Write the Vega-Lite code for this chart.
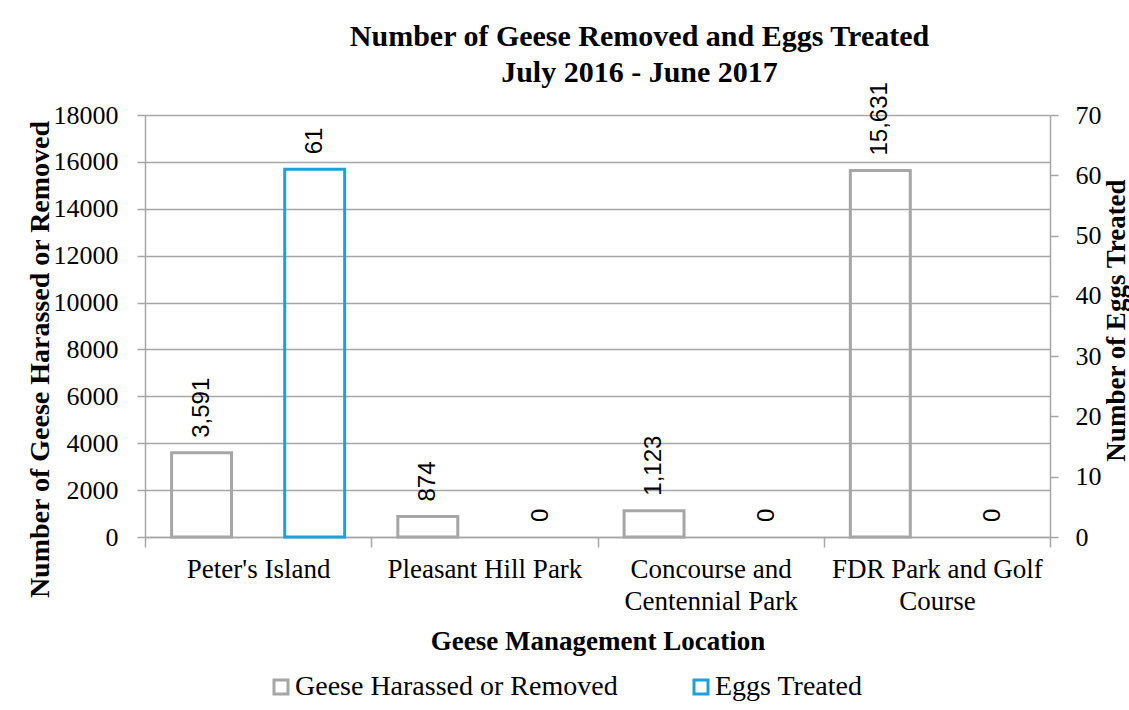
{
  "$schema": "https://vega.github.io/schema/vega-lite/v6.json",
  "autosize": "none",
  "width": 905,
  "height": 422,
  "padding": {"left": 145, "top": 115, "right": 79, "bottom": 173},
  "background": "white",
  "title": {
    "text": ["Number of Geese Removed and Eggs Treated", "July 2016 - June 2017"],
    "font": "Liberation Serif",
    "fontSize": 30,
    "fontWeight": "bold",
    "lineHeight": 36,
    "dx": 42,
    "offset": -6,
    "color": "black"
  },
  "data": {
    "values": [
      {"location": "Peter's Island", "series": "Geese Harassed or Removed", "value": 3591},
      {"location": "Peter's Island", "series": "Eggs Treated", "value": 61},
      {"location": "Pleasant Hill Park", "series": "Geese Harassed or Removed", "value": 874},
      {"location": "Pleasant Hill Park", "series": "Eggs Treated", "value": 0},
      {"location": "Concourse and Centennial Park", "series": "Geese Harassed or Removed", "value": 1123},
      {"location": "Concourse and Centennial Park", "series": "Eggs Treated", "value": 0},
      {"location": "FDR Park and Golf Course", "series": "Geese Harassed or Removed", "value": 15631},
      {"location": "FDR Park and Golf Course", "series": "Eggs Treated", "value": 0}
    ]
  },
  "encoding": {
    "x": {
      "field": "location",
      "type": "nominal",
      "sort": null,
      "scale": {"paddingInner": 0, "paddingOuter": 0},
      "axis": {
        "title": "Geese Management Location",
        "titleFont": "Liberation Serif",
        "titleFontSize": 27,
        "titleFontWeight": "bold",
        "titleColor": "black",
        "titleBaseline": "middle",
        "titleY": 104,
        "labelAngle": 0,
        "labelFont": "Liberation Serif",
        "labelFontSize": 27,
        "labelColor": "black",
        "labelPadding": 9,
        "labelLineHeight": 32,
        "labelLimit": 400,
        "labelOverlap": false,
        "labelExpr": "datum.value == 'Concourse and Centennial Park' ? ['Concourse and', 'Centennial Park'] : datum.value == 'FDR Park and Golf Course' ? ['FDR Park and Golf', 'Course'] : datum.value",
        "tickBand": "extent",
        "tickSize": 10,
        "tickColor": "#a6a6a6",
        "tickWidth": 1.5,
        "domainColor": "#a6a6a6",
        "domainWidth": 1.5,
        "grid": false
      }
    },
    "xOffset": {
      "field": "series",
      "type": "nominal",
      "scale": {"domain": ["Geese Harassed or Removed", "Eggs Treated"], "paddingInner": 0.47, "paddingOuter": 0.235}
    },
    "color": {
      "field": "series",
      "type": "nominal",
      "scale": {"domain": ["Geese Harassed or Removed", "Eggs Treated"], "range": ["#a6a6a6", "#1ba1dc"]},
      "legend": {
        "title": null,
        "orient": "none",
        "direction": "horizontal",
        "legendX": 122,
        "legendY": 558,
        "symbolType": "square",
        "symbolSize": 196,
        "symbolStrokeWidth": 3,
        "symbolFillColor": "white",
        "labelFont": "Liberation Serif",
        "labelFontSize": 28,
        "labelColor": "black",
        "labelOffset": 0,
        "labelLimit": 500,
        "columnPadding": 69
      }
    }
  },
  "layer": [
    {
      "transform": [{"filter": "datum.series == 'Geese Harassed or Removed'"}],
      "encoding": {
        "y": {
          "field": "value",
          "type": "quantitative",
          "scale": {"domain": [0, 18000], "nice": false},
          "axis": {
            "title": "Number of Geese  Harassed or Removed",
            "titleFont": "Liberation Serif",
            "titleFontSize": 28,
            "titleFontWeight": "bold",
            "titleColor": "black",
            "titleAngle": -90,
            "titleAlign": "center",
            "titleBaseline": "middle",
            "titleX": -105,
            "titleY": 244,
            "values": [0, 2000, 4000, 6000, 8000, 10000, 12000, 14000, 16000, 18000],
            "format": "d",
            "labelFont": "Liberation Serif",
            "labelFontSize": 26,
            "labelColor": "black",
            "labelPadding": 19,
            "tickSize": 8,
            "tickColor": "#a6a6a6",
            "tickWidth": 1.5,
            "domainColor": "#a6a6a6",
            "domainWidth": 1.5,
            "grid": true,
            "gridColor": "#a6a6a6",
            "gridWidth": 1.5
          }
        }
      },
      "layer": [
        {"mark": {"type": "bar", "filled": false, "strokeWidth": 3}},
        {
          "mark": {"type": "text", "angle": 270, "align": "left", "baseline": "middle", "dx": 15, "font": "Liberation Sans", "fontSize": 24, "color": "black"},
          "encoding": {"text": {"field": "value", "type": "quantitative", "format": ","}, "color": {"value": "black"}}
        }
      ]
    },
    {
      "transform": [{"filter": "datum.series == 'Eggs Treated'"}],
      "encoding": {
        "y": {
          "field": "value",
          "type": "quantitative",
          "scale": {"domain": [0, 70], "nice": false},
          "axis": {
            "orient": "right",
            "title": "Number of Eggs Treated",
            "titleFont": "Liberation Serif",
            "titleFontSize": 27,
            "titleFontWeight": "bold",
            "titleColor": "black",
            "titleAngle": -90,
            "titleAlign": "center",
            "titleBaseline": "middle",
            "titleX": 66,
            "titleY": 205,
            "values": [0, 10, 20, 30, 40, 50, 60, 70],
            "labelFont": "Liberation Serif",
            "labelFontSize": 26,
            "labelColor": "black",
            "labelPadding": 17,
            "tickSize": 8,
            "tickColor": "#a6a6a6",
            "tickWidth": 1.5,
            "domainColor": "#a6a6a6",
            "domainWidth": 1.5,
            "grid": false
          }
        }
      },
      "layer": [
        {
          "mark": {"type": "bar", "filled": false, "strokeWidth": 3},
          "encoding": {"strokeOpacity": {"condition": {"test": "datum.value > 0", "value": 1}, "value": 0}}
        },
        {
          "mark": {"type": "text", "angle": 270, "align": "left", "baseline": "middle", "dx": 15, "font": "Liberation Sans", "fontSize": 24, "color": "black"},
          "encoding": {"text": {"field": "value", "type": "quantitative", "format": ","}, "color": {"value": "black"}}
        }
      ]
    }
  ],
  "resolve": {"scale": {"y": "independent"}},
  "config": {"view": {"stroke": null}}
}
